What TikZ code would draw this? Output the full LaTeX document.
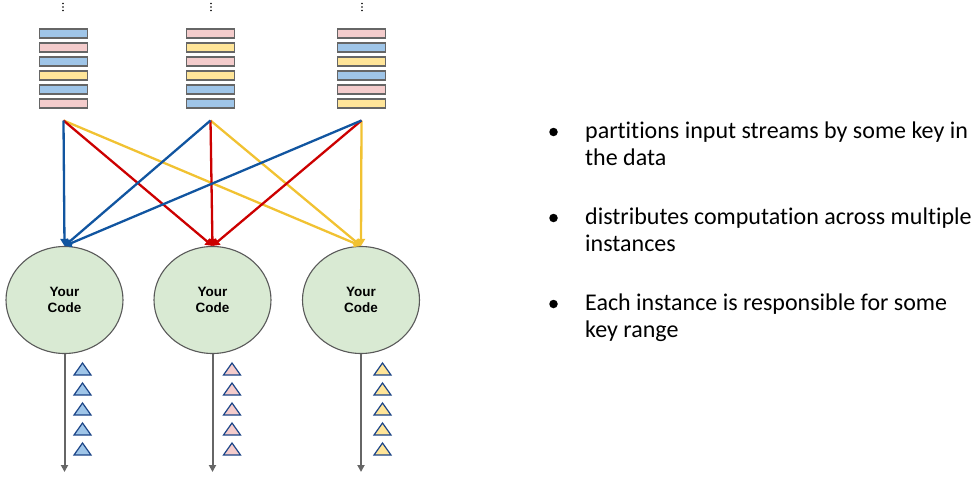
\documentclass[tikz,border=0pt]{standalone}
\usepackage{fontspec}
\setmainfont{Carlito}[Ligatures={NoCommon}]
\newfontfamily\arialfont{Liberation Sans}
\usetikzlibrary{arrows.meta,shapes.geometric}
\definecolor{lnblue}{RGB}{17,85,160}
\definecolor{lnred}{RGB}{204,0,0}
\definecolor{lnyellow}{RGB}{241,194,50}
\definecolor{barblue}{HTML}{9FC5E8}
\definecolor{barpink}{HTML}{F4CCCC}
\definecolor{baryellow}{HTML}{FFE599}
\definecolor{barborder}{HTML}{666666}
\definecolor{codefill}{HTML}{D9EAD3}
\definecolor{codeborder}{HTML}{595959}
\definecolor{tborder}{HTML}{1C4587}
\definecolor{outgray}{HTML}{666666}
\tikzset{
  barbox/.style={draw=barborder, line width=1.7pt, minimum width=48pt, minimum height=8.5pt, inner sep=0pt},
  codenode/.style={ellipse, draw=codeborder, line width=1.1pt, fill=codefill, minimum width=117pt, minimum height=107pt, inner sep=0pt, align=center, font=\arialfont\bfseries\fontsize{13.5}{16}\selectfont},
  feed/.style={line width=2.3pt, -{Triangle[length=7pt,width=8pt]}},
  outarrow/.style={draw=outgray, line width=2pt, -{Triangle[length=7pt,width=7pt]}},
  tri/.style={draw=tborder, line width=1.2pt, line join=miter},
  bullettext/.style={anchor=base west, inner sep=0pt, font=\fontsize{24}{28}\selectfont},
  bulletdot/.style={circle, fill=black, inner sep=0pt, minimum size=8.5pt},
  vdot/.style={circle, fill=black, inner sep=0pt, minimum size=1.8pt}
}
\begin{document}
\begin{tikzpicture}[x=1pt,y=-1pt]
\useasboundingbox (0,0) rectangle (978,479);
% bars
\foreach \c [count=\i] in {barblue,barpink,barblue,baryellow,barblue,barpink}
  \node[barbox, fill=\c] (ba\i) at (63.5, 19.5+14*\i) {};
\foreach \c [count=\i] in {barpink,baryellow,barpink,baryellow,barblue,barblue}
  \node[barbox, fill=\c] (bb\i) at (210.5, 19.5+14*\i) {};
\foreach \c [count=\i] in {barpink,barblue,baryellow,barblue,barpink,baryellow}
  \node[barbox, fill=\c] (bc\i) at (361.5, 19.5+14*\i) {};
% vertical dots
\foreach \x/\n in {63/a,211/b,362/c}{
  \node[vdot] (d\n1) at (\x,3.5) {};
  \node[vdot] (d\n2) at (\x,7) {};
  \node[vdot] (d\n3) at (\x,10.5) {};
}
% stream source points
\coordinate (s1) at (63.5,120.5);
\coordinate (s2) at (210.5,120.5);
\coordinate (s3) at (361.5,120.5);
% code nodes
\node[codenode] (c1) at (64.5,300) {Your\\Code};
\node[codenode] (c2) at (212.5,300) {Your\\Code};
\node[codenode] (c3) at (361,300) {Your\\Code};
% feeds
\draw[feed, lnyellow] (s1) -- (c3.north);
\draw[feed, lnyellow] (s2) -- (c3.north);
\draw[feed, lnyellow] (s3) -- (c3.north);
\draw[feed, lnred] (s1) -- (c2.north);
\draw[feed, lnred] (s2) -- (c2.north);
\draw[feed, lnred] (s3) -- (c2.north);
\draw[feed, lnblue] (s1) -- (c1.north);
\draw[feed, lnblue] (s2) -- (c1.north);
\draw[feed, lnblue] (s3) -- (c1.north);
% outputs
\coordinate (o1) at (64.5,472);
\coordinate (o2) at (212.5,472);
\coordinate (o3) at (361,472);
\draw[outarrow] (c1.south) -- (o1);
\draw[outarrow] (c2.south) -- (o2);
\draw[outarrow] (c3.south) -- (o3);
% triangles
\foreach \x/\f in {82.5/barblue,232/barpink,382.5/baryellow}
  \foreach \k in {0,...,4}
    \draw[tri, fill=\f] (\x-8.5,375+20*\k) -- (\x,363+20*\k) -- (\x+8.5,375+20*\k) -- cycle;
% bullets
\node[bulletdot] (p1) at (553.5,132) {};
\node[bulletdot] (p2) at (553.5,218) {};
\node[bulletdot] (p3) at (553.5,304) {};
\node[bullettext] (t1a) at (585,138) {partitions input streams by some key in};
\node[bullettext] (t1b) at (585,165.5) {the data};
\node[bullettext] (t2a) at (585,224) {distributes computation across multiple};
\node[bullettext] (t2b) at (585,251.5) {instances};
\node[bullettext] (t3a) at (585,310) {Each instance is responsible for some};
\node[bullettext] (t3b) at (585,337.5) {key range};
\end{tikzpicture}
\end{document}
